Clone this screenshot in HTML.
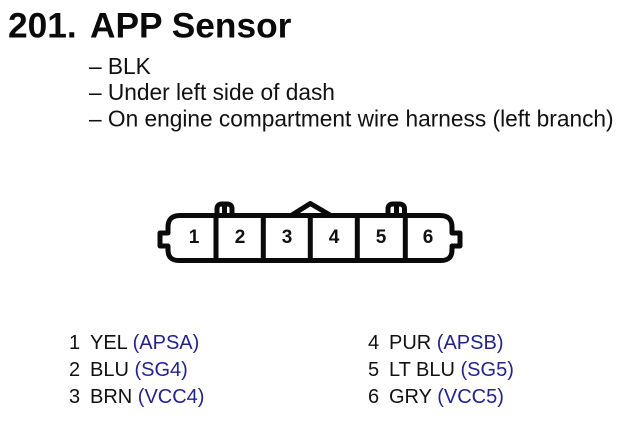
<!DOCTYPE html>
<html><head><meta charset="utf-8"><style>
html,body{margin:0;padding:0;background:#fff}
svg{display:block}
text{font-family:"Liberation Sans",sans-serif;fill:#111}
.t{font-weight:700;font-size:35.3px;fill:#0a0a0a}
.s{font-size:22.7px}
.n{font-weight:700;font-size:19px;text-anchor:middle}
.l{font-size:20px}
.b{fill:#23238c}
</style></head><body>
<svg width="622" height="422" viewBox="0 0 622 422" xmlns="http://www.w3.org/2000/svg">
<rect width="622" height="422" fill="#fff"/>
<text class="t" x="8" y="37.500">201.</text>
<text class="t" x="90" y="37.500">APP Sensor</text>
<text class="s" x="89" y="74">– BLK</text>
<text class="s" x="89" y="100">– Under left side of dash</text>
<text class="s" x="89" y="126.500">– On engine compartment wire harness (left branch)</text>
<g fill="none" stroke="#0a0a0a" stroke-width="5" stroke-linejoin="round">
<path d="M180 215.5H440Q452 215.5 452 227V233H460V246H452V250Q452 260.5 441 260.5H179Q168 260.5 168 250V246H160V233H168V227Q168 215.5 180 215.5Z"/>
<path d="M216 215.5V260.5M263.3 215.5V260.5M310.3 215.5V260.5M357.3 215.5V260.5M405.3 215.5V260.5"/>
<path d="M217 215V209Q217 204 222 204H227Q232 204 232 209V215M224.500 204V215"/>
<path d="M388 215V209Q388 204 393 204H399Q404.500 204 404.500 209V215M396.500 204V215"/>
<path d="M292 215L310.300 203.500L330 215"/>
</g>
<text class="n" x="194" y="243">1</text>
<text class="n" x="240" y="243">2</text>
<text class="n" x="287" y="243">3</text>
<text class="n" x="334" y="243">4</text>
<text class="n" x="381" y="243">5</text>
<text class="n" x="428" y="243">6</text>
<text class="l" x="69" y="349">1</text><text class="l" x="90" y="349">YEL <tspan class="b">(APSA)</tspan></text>
<text class="l" x="69" y="376">2</text><text class="l" x="90" y="376">BLU <tspan class="b">(SG4)</tspan></text>
<text class="l" x="69" y="403">3</text><text class="l" x="90" y="403">BRN <tspan class="b">(VCC4)</tspan></text>
<text class="l" x="368" y="349">4</text><text class="l" x="389" y="349">PUR <tspan class="b">(APSB)</tspan></text>
<text class="l" x="368" y="376">5</text><text class="l" x="389" y="376">LT BLU <tspan class="b">(SG5)</tspan></text>
<text class="l" x="368" y="403">6</text><text class="l" x="389" y="403">GRY <tspan class="b">(VCC5)</tspan></text>
</svg>
</body></html>
